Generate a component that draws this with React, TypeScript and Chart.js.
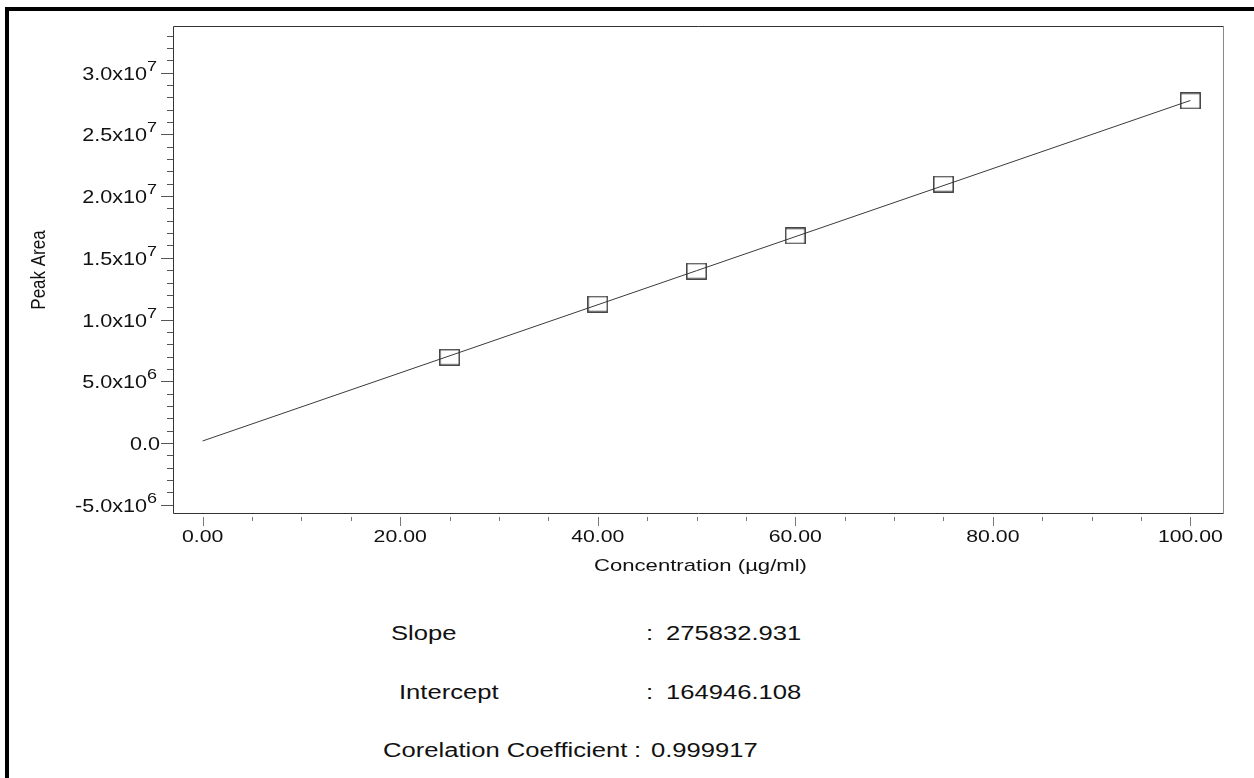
import React, { useEffect, useRef } from "react";
import { Chart, registerables } from "chart.js";

Chart.register(...registerables);

// ---- data ----
const concentrations = [25, 40, 50, 60, 75, 100];
const peakAreas = [6.95e6, 11.26e6, 13.93e6, 16.77e6, 20.98e6, 27.71e6];
const fitLineX = [0, 100];
const fitLineY = [164946.108, 27748239.2];

const xMajorTicks = [0, 20, 40, 60, 80, 100];
const xTickLabels = ["0.00", "20.00", "40.00", "60.00", "80.00", "100.00"];
const xMinorStep = 5;

const yMajorTicks = [-5e6, 0, 5e6, 1e7, 1.5e7, 2e7, 2.5e7, 3e7];
const yTickMantissas = ["-5.0", "0.0", "5.0", "1.0", "1.5", "2.0", "2.5", "3.0"];
const yTickExponents = ["6", "", "6", "7", "7", "7", "7", "7"];
const yMinorStep = 1e6;

const xTitle = "Concentration (µg/ml)";
const yTitle = "Peak Area";

const statLabels = ["Slope", "Intercept", "Corelation Coefficient"];
const statValues = ["275832.931", "164946.108", "0.999917"];

const FONT = '"Liberation Sans", Arial, sans-serif';

const axisDeco = {
  id: "axisDeco",
  afterDraw(chart: any) {
    const { ctx, chartArea: a, scales } = chart;
    const xs = scales.x;
    const ys = scales.y;
    ctx.save();

    // plot box
    ctx.lineWidth = 1;
    ctx.strokeStyle = "#333";
    ctx.beginPath();
    ctx.moveTo(a.left + 0.5, a.bottom - 0.5);
    ctx.lineTo(a.left + 0.5, a.top + 0.5);
    ctx.lineTo(a.right - 0.5, a.top + 0.5);
    ctx.moveTo(a.left + 0.5, a.bottom - 0.5);
    ctx.lineTo(a.right - 0.5, a.bottom - 0.5);
    ctx.stroke();
    ctx.strokeStyle = "#888";
    ctx.beginPath();
    ctx.moveTo(a.right - 0.5, a.top);
    ctx.lineTo(a.right - 0.5, a.bottom);
    ctx.stroke();

    // y ticks
    ctx.strokeStyle = "#555";
    const yStart = Math.ceil(ys.min / yMinorStep);
    const yEnd = Math.floor(ys.max / yMinorStep);
    for (let i = yStart; i <= yEnd; i++) {
      const v = i * yMinorStep;
      const major = yMajorTicks.some((m) => Math.abs(m - v) < 1);
      const py = Math.round(ys.getPixelForValue(v)) + 0.5;
      ctx.beginPath();
      ctx.moveTo(a.left - (major ? 12 : 6), py);
      ctx.lineTo(a.left, py);
      ctx.stroke();
    }

    // x ticks
    ctx.strokeStyle = "#777";
    const xStart = Math.ceil(xs.min / xMinorStep);
    const xEnd = Math.floor(xs.max / xMinorStep);
    for (let i = xStart; i <= xEnd; i++) {
      const v = i * xMinorStep;
      const major = xMajorTicks.includes(v);
      const px = Math.round(xs.getPixelForValue(v)) + 0.5;
      ctx.beginPath();
      ctx.moveTo(px, a.bottom + 3);
      ctx.lineTo(px, a.bottom + (major ? 12 : 7));
      ctx.stroke();
    }

    ctx.fillStyle = "#111";
    ctx.textBaseline = "alphabetic";

    // x labels
    ctx.font = `17px ${FONT}`;
    ctx.textAlign = "center";
    xMajorTicks.forEach((v, i) => {
      const px = xs.getPixelForValue(v);
      ctx.save();
      ctx.translate(px, a.bottom + 28);
      ctx.scale(1.25, 1);
      ctx.fillText(xTickLabels[i], 0, 0);
      ctx.restore();
    });

    // x title
    ctx.save();
    ctx.translate((a.left + a.right) / 2 + 2, a.bottom + 57);
    ctx.scale(1.3, 1);
    ctx.fillText(xTitle, 0, 0);
    ctx.restore();

    // y labels with exponent
    yMajorTicks.forEach((v, i) => {
      const py = ys.getPixelForValue(v);
      const exp = yTickExponents[i];
      ctx.save();
      if (exp) {
        const mainRight = a.left - 26;
        ctx.font = `18px ${FONT}`;
        ctx.textAlign = "right";
        ctx.translate(mainRight, py + 7);
        ctx.scale(1.2, 1);
        ctx.fillText(yTickMantissas[i] + "x10", 0, 0);
        ctx.restore();
        ctx.save();
        ctx.font = `15px ${FONT}`;
        ctx.textAlign = "left";
        ctx.translate(mainRight, py - 2);
        ctx.scale(1.2, 1);
        ctx.fillText(exp, 0, 0);
      } else {
        ctx.font = `18px ${FONT}`;
        ctx.textAlign = "right";
        ctx.translate(a.left - 13, py + 7);
        ctx.scale(1.2, 1);
        ctx.fillText(yTickMantissas[i], 0, 0);
      }
      ctx.restore();
    });

    // y title
    ctx.save();
    ctx.font = `17px ${FONT}`;
    ctx.textAlign = "center";
    ctx.translate(45, (a.top + a.bottom) / 2);
    ctx.rotate(-Math.PI / 2);
    ctx.scale(1, 1.2);
    ctx.fillText(yTitle, 0, 0);
    ctx.restore();

    ctx.restore();
  },
};

export default function App() {
  const canvasRef = useRef<HTMLCanvasElement | null>(null);

  useEffect(() => {
    const canvas = canvasRef.current;
    if (!canvas) return;

    const marker = document.createElement("canvas");
    marker.width = 21;
    marker.height = 17;
    const mctx = marker.getContext("2d")!;
    mctx.strokeStyle = "#333";
    mctx.lineWidth = 1.4;
    mctx.strokeRect(0.8, 0.8, 19.4, 15.4);

    const chart = new Chart(canvas, {
      type: "scatter",
      data: {
        datasets: [
          {
            type: "line",
            label: "fit",
            data: fitLineX.map((x, i) => ({ x, y: fitLineY[i] })),
            borderColor: "#3a3a3a",
            borderWidth: 1,
            pointRadius: 0,
            fill: false,
            order: 2,
          } as any,
          {
            type: "scatter",
            label: "standards",
            data: concentrations.map((x, i) => ({ x, y: peakAreas[i] })),
            pointStyle: marker as any,
            pointRadius: 10,
            borderColor: "#333",
            backgroundColor: "transparent",
            order: 1,
          } as any,
        ],
      },
      options: {
        responsive: false,
        animation: false,
        devicePixelRatio: 1,
        layout: { padding: { top: 26, right: 30, left: 0, bottom: 0 } },
        plugins: { legend: { display: false }, tooltip: { enabled: false } },
        scales: {
          x: {
            type: "linear",
            min: -3,
            max: 103.4,
            grid: { display: false },
            border: { display: false },
            ticks: { display: false },
            afterFit: (s: any) => {
              s.height = 86;
            },
          },
          y: {
            type: "linear",
            min: -5.75e6,
            max: 33.78e6,
            grid: { display: false },
            border: { display: false },
            ticks: { display: false },
            afterFit: (s: any) => {
              s.width = 173;
            },
          },
        },
      },
      plugins: [axisDeco as any],
    });

    return () => chart.destroy();
  }, []);

  const statStyle = (left: number, top: number): React.CSSProperties => ({
    position: "absolute",
    left,
    top,
    fontFamily: FONT,
    fontSize: 20,
    lineHeight: "20px",
    color: "#111",
    whiteSpace: "nowrap",
    transform: "scaleX(1.28)",
    transformOrigin: "left top",
  });

  const rows = [
    { labelLeft: 391, colonLeft: 646, valueLeft: 666, top: 623 },
    { labelLeft: 399, colonLeft: 646, valueLeft: 666, top: 682 },
    { labelLeft: 383, colonLeft: 634, valueLeft: 651, top: 740 },
  ];

  return (
    <div
      style={{
        position: "fixed",
        left: 0,
        top: 0,
        width: 1254,
        height: 778,
        overflow: "hidden",
        background: "#fff",
      }}
    >
      <div
        style={{
          position: "absolute",
          left: 5,
          top: 7,
          width: 1300,
          height: 800,
          borderTop: "4px solid #000",
          borderLeft: "4px solid #000",
        }}
      />
      <canvas
        ref={canvasRef}
        width={1254}
        height={600}
        style={{ position: "absolute", left: 0, top: 0, width: 1254, height: 600 }}
      />
      {rows.map((r, i) => (
        <React.Fragment key={i}>
          <div style={statStyle(r.labelLeft, r.top)}>{statLabels[i]}</div>
          <div style={statStyle(r.colonLeft, r.top)}>:</div>
          <div style={statStyle(r.valueLeft, r.top)}>{statValues[i]}</div>
        </React.Fragment>
      ))}
    </div>
  );
}
